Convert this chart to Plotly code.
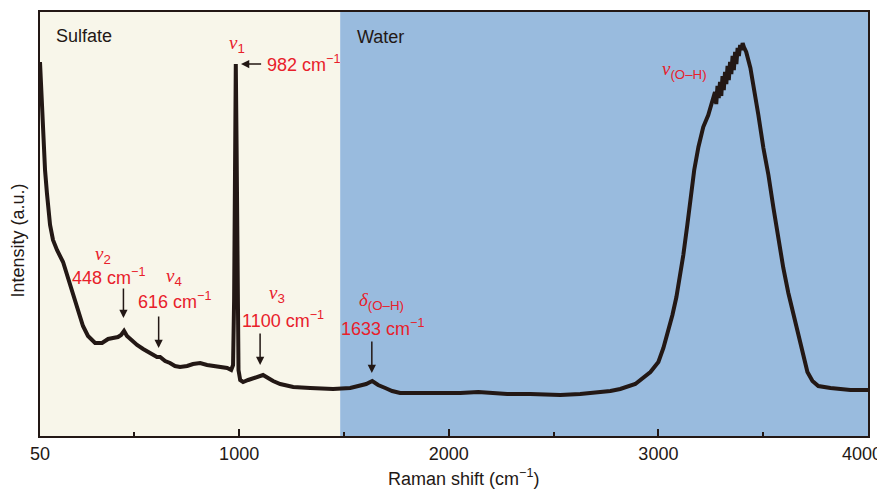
import plotly.graph_objects as go

# Raman spectrum (wavenumber in cm^-1, intensity in a.u.)
shift = [50, 60, 64, 74, 83, 98, 112, 131, 160, 184, 208, 231, 255, 279, 313, 346, 375, 398, 422, 437,
         451, 465, 484, 513, 542, 575, 608, 623, 647, 670, 694, 718, 752, 780, 814, 847, 876, 909, 943, 962,
         971, 976, 981, 984, 988, 993, 997, 1005, 1019, 1043, 1067, 1091, 1114, 1138, 1162, 1196, 1258, 1339,
         1448, 1530, 1577, 1606, 1635, 1663, 1697, 1730, 1768, 1816, 1940, 2055, 2141, 2222, 2279, 2389, 2532,
         2627, 2699, 2771, 2818, 2890, 2962, 3000, 3024, 3047, 3067, 3086, 3105, 3119, 3138, 3152, 3171, 3191,
         3214, 3238, 3262,
         3270, 3276, 3282, 3288, 3294, 3300, 3306, 3312, 3318, 3324, 3330, 3336, 3342, 3348, 3354, 3360,
         3366, 3372, 3378, 3384, 3390, 3396, 3402, 3408, 3414,
         3419, 3439, 3458, 3477, 3501, 3525, 3549, 3572, 3596, 3620, 3644, 3668, 3692, 3711, 3735, 3763, 3821,
         3916, 4000]
intensity = [374, 326, 293, 266, 243, 211, 196, 186, 174, 158, 142, 125, 110, 100, 93, 93, 97, 98, 99, 101,
             105, 100, 96, 91, 87, 83, 79, 79, 75, 73, 70, 69, 70, 72, 73, 71, 70, 69, 68, 66,
             71, 136, 286, 372, 286, 136, 66, 56, 54, 56, 58, 60, 61, 58, 55, 52, 49, 48,
             47, 48, 50, 52, 55, 51, 48, 45, 43, 43, 42, 43, 44, 43, 42, 42, 41,
             42, 43, 45, 47, 52, 64, 74, 88, 104, 121, 139, 161, 181, 211, 236, 266, 289,
             309, 321, 336,
             344, 332, 350, 338, 354, 340, 360, 346, 364, 352, 370, 356, 374, 362, 380, 366,
             384, 372, 388, 380, 391, 386, 393, 389, 386,
             384, 368, 346, 321, 288, 261, 228, 196, 168, 143, 121, 99, 79, 64, 55, 50, 48,
             46, 46]

# Regions
region_names = ["Sulfate", "Water"]
region_bounds = [(50, 1482), (1482, 4000)]
region_colors = ["#F8F6EA", "#99BBDE"]

# Band assignments
band_pos = [448, 616, 1100, 1633]
band_label = ["<i>ν</i><sub>2</sub>", "<i>ν</i><sub>4</sub>", "<i>ν</i><sub>3</sub>", "<i>δ</i><sub>(O–H)</sub>"]
band_text = ["448 cm<sup>−1</sup>", "616 cm<sup>−1</sup>", "1100 cm<sup>−1</sup>", "1633 cm<sup>−1</sup>"]

major_ticks = [50, 1000, 2000, 3000, 4000]
major_labels = ["50", "1000", "2000", "3000", "4000"]
minor_ticks = [500, 1500, 2500, 3500]

RED = "#E8202A"
INK = "#231815"
FONT = "Liberation Sans, Arial, sans-serif"

fig = go.Figure()
fig.add_trace(go.Scatter(x=shift, y=intensity, mode="lines",
                         line=dict(color=INK, width=4), hoverinfo="skip", showlegend=False))

for (x0, x1), c in zip(region_bounds, region_colors):
    fig.add_shape(type="rect", xref="x", yref="paper", x0=x0, x1=x1, y0=0, y1=1,
                  fillcolor=c, line=dict(width=0), layer="below")

ann = []
ann.append(dict(x=117, y=400, text=region_names[0], xanchor="left", yanchor="middle", showarrow=False,
                font=dict(size=18, color=INK, family=FONT)))
ann.append(dict(x=1553, y=399, text=region_names[1], xanchor="left", yanchor="middle", showarrow=False,
                font=dict(size=18, color=INK, family=FONT)))


def greek(s):
    return s.replace("<i>", '<span style="font-family:Liberation Serif"><i>').replace("</i>", "</i></span>")


ann.append(dict(x=992, y=392, text=greek("<i>ν</i><sub>1</sub>"), showarrow=False,
                font=dict(size=19, color=RED, family=FONT)))
ann.append(dict(x=1124, y=373, text="982 cm<sup>−1</sup>", xanchor="left", showarrow=False,
                font=dict(size=18, color=RED, family=FONT)))
ann.append(dict(x=1009, y=372, ax=1112, ay=372, axref="x", ayref="y", text="", showarrow=True,
                arrowhead=2, arrowsize=1.1, arrowwidth=1.5, arrowcolor=INK))

label_xy = [(351, 181), (687, 159), (1179, 142), (1678, 135)]
text_xy = [(379, 160), (690, 136), (1207, 117), (1685, 109)]
arrow_y = [(118, 149), (88, 121), (71, 104), (63, 96)]
for p, lab, txt, lxy, txy, ay in zip(band_pos, band_label, band_text, label_xy, text_xy, arrow_y):
    ann.append(dict(x=lxy[0], y=lxy[1], text=greek(lab), showarrow=False,
                    font=dict(size=19, color=RED, family=FONT)))
    ann.append(dict(x=txy[0], y=txy[1], text=txt, showarrow=False,
                    font=dict(size=18, color=RED, family=FONT)))
    ann.append(dict(x=p, y=ay[0], ax=p, ay=ay[1], axref="x", ayref="y", text="", showarrow=True,
                    arrowhead=2, arrowsize=1.1, arrowwidth=1.5, arrowcolor=INK))

ann.append(dict(x=3124, y=366, text=greek("<i>ν</i><sub>(O–H)</sub>"), showarrow=False,
                font=dict(size=19, color=RED, family=FONT)))

# last tick label sits just inside the right border, as in the original
ann.append(dict(x=4000, xref="x", yref="paper", y=-0.0415, yanchor="middle", xanchor="center", xshift=-6,
                text=major_labels[-1], showarrow=False, font=dict(size=18, color=INK, family=FONT)))

ann.append(dict(xref="paper", yref="paper", x=0.512, y=-0.098, text="Raman shift (cm<sup>−1</sup>)",
                showarrow=False, yanchor="middle", font=dict(size=18, color=INK, family=FONT)))
ann.append(dict(xref="paper", yref="paper", x=-0.027, y=0.46, text="Intensity (a.u.)", textangle=-90,
                showarrow=False, xanchor="center", yanchor="middle", font=dict(size=18, color=INK, family=FONT)))

# page body has an 8px margin, so the figure is sized to fill the rest of the window
fig.update_layout(
    width=877, height=481,
    margin=dict(l=32, r=17, t=4, b=53, autoexpand=False),
    paper_bgcolor="white", plot_bgcolor="white",
    annotations=ann,
    xaxis=dict(range=[50, 4000], tickvals=major_ticks, ticktext=major_labels[:-1] + [""],
               ticks="inside", ticklen=7, tickwidth=2, tickcolor=INK,
               showline=True, linewidth=2.2, linecolor=INK, mirror=True,
               showgrid=False, zeroline=False, automargin=False,
               tickfont=dict(size=18, color=INK, family=FONT),
               minor=dict(tickvals=minor_ticks, ticks="inside", ticklen=4, tickwidth=2, tickcolor=INK)),
    yaxis=dict(range=[0, 424], showticklabels=False, ticks="",
               showline=True, linewidth=2.2, linecolor=INK, mirror=True,
               showgrid=False, zeroline=False, automargin=False),
)

fig.write_html("out.html")
